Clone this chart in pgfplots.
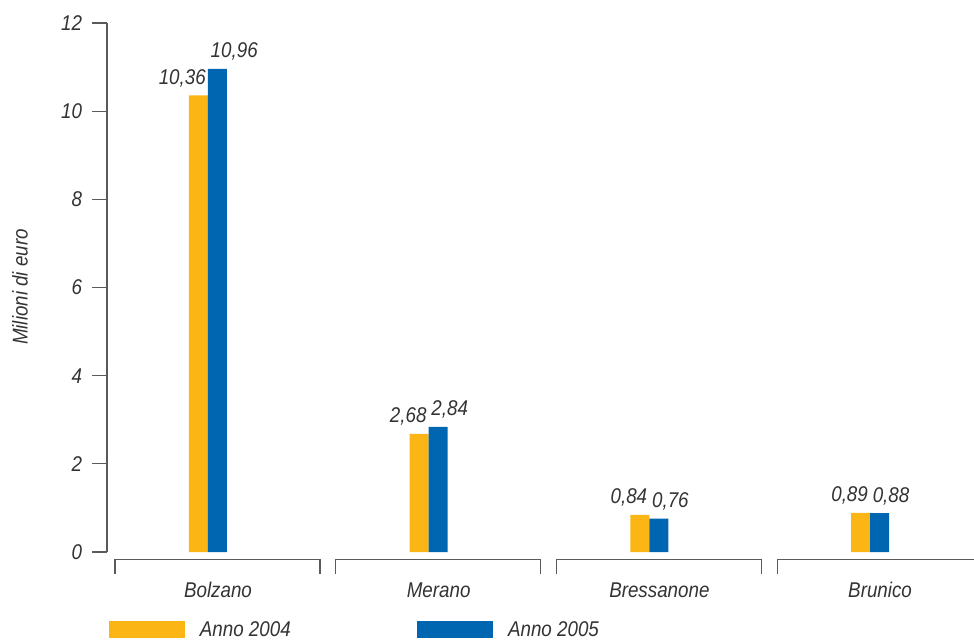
\documentclass[border=0pt]{standalone}
\usepackage{pgfplots}
\pgfplotsset{compat=1.18}
\usepackage{fontspec}
\setmainfont{Liberation Sans}[FakeStretch=0.88]
\definecolor{cyel}{RGB}{251,181,21}
\definecolor{cblu}{RGB}{0,102,178}
\definecolor{ctxt}{RGB}{51,51,51}
\definecolor{caxis}{RGB}{90,90,90}
\newcommand{\lf}{\fontsize{16}{19}\selectfont\itshape}
\begin{document}
\begin{tikzpicture}
\useasboundingbox (0,0) rectangle (730.5pt,-479.25pt);
\begin{axis}[
 at={(80.25pt,-414pt)}, anchor=south west,
 scale only axis, width=650.25pt, height=396.75pt,
 xmin=-0.4576, xmax=3.471, ymin=0, ymax=12,
 clip=false,
 axis y line*=left, y axis line style={-, draw=caxis, line width=0.8pt},
 axis x line*=bottom, x axis line style={draw=none},
 ytick={0,2,...,12}, yticklabels={0,2,4,6,8,10,12},
 xtick={0,1,2,3}, xticklabels={Bolzano,Merano,Bressanone,Brunico},
 x tick style={draw=none},
 y tick style={draw=caxis, line width=0.8pt},
 tick align=outside, major tick length=11.25pt,
 tick label style={font=\lf, text=ctxt},
 yticklabel style={xshift=-4pt},
 xticklabel style={anchor=base, xshift=7.5pt, yshift=-22.5pt},
 ylabel={Milioni di euro},
 ylabel style={at={(axis description cs:-0.1003,0.501)}, anchor=center, font=\lf, text=ctxt},
 ybar, bar width=14.25pt,
 nodes near coords={\pgfmathprintnumber[use comma,fixed,fixed zerofill,precision=2,assume math mode=true]{\pgfplotspointmeta}},
 nodes near coords style={font=\lf, text=ctxt},
 legend style={at={(axis description cs:0.0023,-0.147)}, anchor=west, draw=none, fill=none, inner sep=0pt, legend columns=2, font=\lf, text=ctxt, /tikz/every even column/.append style={column sep=93pt}},
 legend image code/.code={\fill[#1] (0pt,-6.4pt) rectangle (57pt,6.4pt); \path (66pt,0pt);},
]
\addplot[fill=cyel, draw=none, bar shift=-7.125pt,
  every node near coord/.append style={anchor=base east, xshift=9pt, yshift=8.25pt}]
  coordinates {(0,10.36) (1,2.68) (2,0.84) (3,0.89)};
\addlegendentry{Anno 2004}
\addplot[fill=cblu, draw=none, bar shift=7.125pt,
  every node near coord/.append style={anchor=base west, xshift=-8.6pt, yshift=8.25pt}]
  coordinates {(0,10.96) (1,2.84) (2,0.76) (3,0.88)};
\addlegendentry{Anno 2005}
\draw[caxis, line width=0.8pt] (axis cs:-0.4214,-0.499) -- (axis cs:-0.4214,-0.170) -- (axis cs:0.5075,-0.170) -- (axis cs:0.5075,-0.499);
\draw[caxis, line width=0.8pt] (axis cs:0.5786,-0.499) -- (axis cs:0.5786,-0.170) -- (axis cs:1.5075,-0.170) -- (axis cs:1.5075,-0.499);
\draw[caxis, line width=0.8pt] (axis cs:1.5786,-0.499) -- (axis cs:1.5786,-0.170) -- (axis cs:2.5075,-0.170) -- (axis cs:2.5075,-0.499);
\draw[caxis, line width=0.8pt] (axis cs:2.5786,-0.499) -- (axis cs:2.5786,-0.170) -- (axis cs:3.5075,-0.170) -- (axis cs:3.5075,-0.499);
\end{axis}
\end{tikzpicture}
\end{document}
